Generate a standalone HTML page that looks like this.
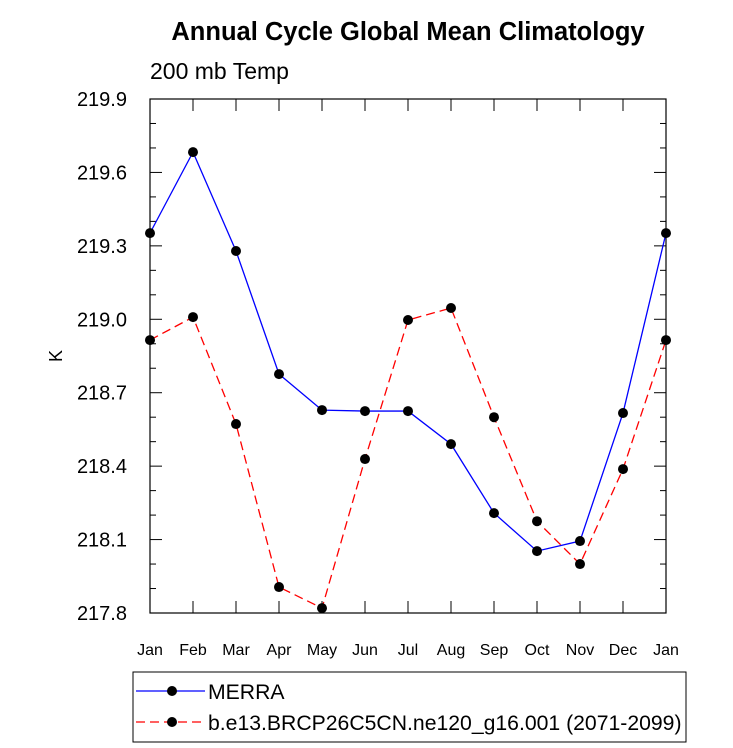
<!DOCTYPE html>
<html><head><meta charset="utf-8"><style>body{margin:0;background:#fff}svg{display:block;font-family:"Liberation Sans",sans-serif}</style></head>
<body>
<svg id="c" width="733" height="748">
<text x="408" y="40" text-anchor="middle" font-size="25.5" font-weight="bold">Annual Cycle Global Mean Climatology</text>
<text x="150" y="79" font-size="23">200 mb Temp</text>
<text x="62" y="356" font-size="18" text-anchor="middle" transform="rotate(-90 62 356)">K</text>
<g id="ax"></g>
<g id="legend">
<rect x="133" y="672" width="553" height="70" fill="none" stroke="#000" stroke-width="1"/>
<line x1="136" y1="691" x2="205" y2="691" stroke="#00f" stroke-width="1.3"/><circle cx="172" cy="691" r="5"/>
<text x="208" y="699" font-size="21.2">MERRA</text>
<line x1="136" y1="722" x2="205" y2="722" stroke="#f00" stroke-width="1.3" stroke-dasharray="9,5"/><circle cx="172" cy="722" r="5"/>
<text x="208" y="730" font-size="21.2">b.e13.BRCP26C5CN.ne120_g16.001 (2071-2099)</text>
</g>
</svg>
<script>
const months=["Jan","Feb","Mar","Apr","May","Jun","Jul","Aug","Sep","Oct","Nov","Dec","Jan"];
const merra=[219.352,219.683,219.279,218.776,218.629,218.625,218.625,218.49,218.208,218.053,218.094,218.617,219.352];
const model=[218.915,219.009,218.572,217.906,217.82,218.429,218.997,219.046,218.6,218.175,218.0,218.388,218.915];
const yTicks=["219.9","219.6","219.3","219.0","218.7","218.4","218.1","217.8"];
const NS="http://www.w3.org/2000/svg";
const L=150,R=666,T=99,B=613,ymin=217.8,ymax=219.9;
const xs=i=>L+(R-L)*i/(months.length-1);
const ys=v=>B-(v-ymin)/(ymax-ymin)*(B-T);
const g=document.getElementById('ax');
function mk(t,a){const e=document.createElementNS(NS,t);for(const k in a)e.setAttribute(k,a[k]);g.appendChild(e);return e;}
const fr=mk('rect',{x:L,y:T,width:R-L,height:B-T,fill:'none',stroke:'#000','stroke-width':1.2});


for(let v=ymin;v<=ymax+1e-6;v+=0.1){const y=ys(v);const maj=Math.abs(((v-ymin)/0.3)-Math.round((v-ymin)/0.3))<1e-3;const len=maj?12:6;
mk('line',{x1:L,y1:y,x2:L+len,y2:y,stroke:'#000'});mk('line',{x1:R,y1:y,x2:R-len,y2:y,stroke:'#000'});}
yTicks.forEach(s=>{const t=mk('text',{x:L-23,y:ys(+s)+7,'text-anchor':'end','font-size':20});t.textContent=s;

});
months.forEach((m,i)=>{const x=xs(i);mk('line',{x1:x,y1:B,x2:x,y2:B-12,stroke:'#000'});mk('line',{x1:x,y1:T,x2:x,y2:T+12,stroke:'#000'});
const t=mk('text',{x:x,y:B+42,'text-anchor':'middle','font-size':16});t.textContent=m;

});
function series(d,col,dash,name){const p=mk('polyline',{points:d.map((v,i)=>xs(i)+','+ys(v)).join(' '),fill:'none',stroke:col,'stroke-width':1.3,'stroke-dasharray':dash});


d.forEach((v,i)=>{const c=mk('circle',{cx:xs(i),cy:ys(v),r:5,fill:'#000'});

});}
series(merra,'#00f','none','merra');
series(model,'#f00','9,5','model');
</script>
</body></html>
